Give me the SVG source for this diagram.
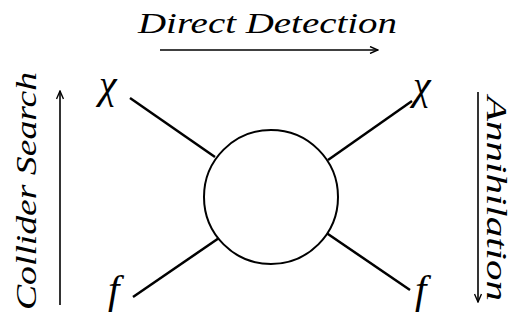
<svg xmlns="http://www.w3.org/2000/svg" width="521" height="320" viewBox="0 0 521 320">
<style>
.lbl{font-family:"Liberation Serif","DejaVu Serif",serif;font-style:italic;fill:#000}
.ln{stroke:#000;stroke-width:2.5;fill:none}
.ar{stroke:#000;stroke-width:1.6;fill:none}
</style>
<defs>
<marker id="ah" markerWidth="10" markerHeight="8" refX="9" refY="4" orient="auto" markerUnits="userSpaceOnUse">
<path d="M1,0.5 L9,4 L1,7.5" fill="none" stroke="#000" stroke-width="1.4"/>
</marker>
</defs>
<rect width="521" height="320" fill="#fff"/>
<g id="arrows">
<line class="ar" x1="160" y1="50" x2="378" y2="50" marker-end="url(#ah)"/>
<line class="ar" x1="60" y1="305" x2="60" y2="91" marker-end="url(#ah)"/>
<line class="ar" x1="478" y1="92" x2="478" y2="302" marker-end="url(#ah)"/>
</g>
<g id="labels">
<text class="lbl" x="138" y="33" font-size="30" textLength="259" lengthAdjust="spacingAndGlyphs">Direct Detection</text>
<text class="lbl" transform="translate(36,310) rotate(-90)" font-size="30" textLength="238" lengthAdjust="spacingAndGlyphs">Collider Search</text>
<text class="lbl" transform="translate(487,96) rotate(90)" font-size="30" textLength="205" lengthAdjust="spacingAndGlyphs">Annihilation</text>
</g>
<g id="connectors">
<line class="ln" x1="130" y1="98" x2="215" y2="157"/>
<line class="ln" x1="133" y1="297" x2="219" y2="238"/>
<line class="ln" x1="412" y1="101" x2="328" y2="160"/>
<line class="ln" x1="410" y1="290" x2="325" y2="232"/>
</g>
<g id="vertex">
<circle cx="271" cy="197" r="67" fill="#fff" stroke="#000" stroke-width="2"/>
</g>
<g id="chi-left"><text class="lbl" x="99" y="98" font-size="40">χ</text></g>
<g id="chi-right"><text class="lbl" x="413" y="99" font-size="40">χ</text></g>
<g id="f-left"><text class="lbl" x="108" y="303" font-size="41">f</text></g>
<g id="f-right"><text class="lbl" x="415" y="303" font-size="41">f</text></g>
</svg>
